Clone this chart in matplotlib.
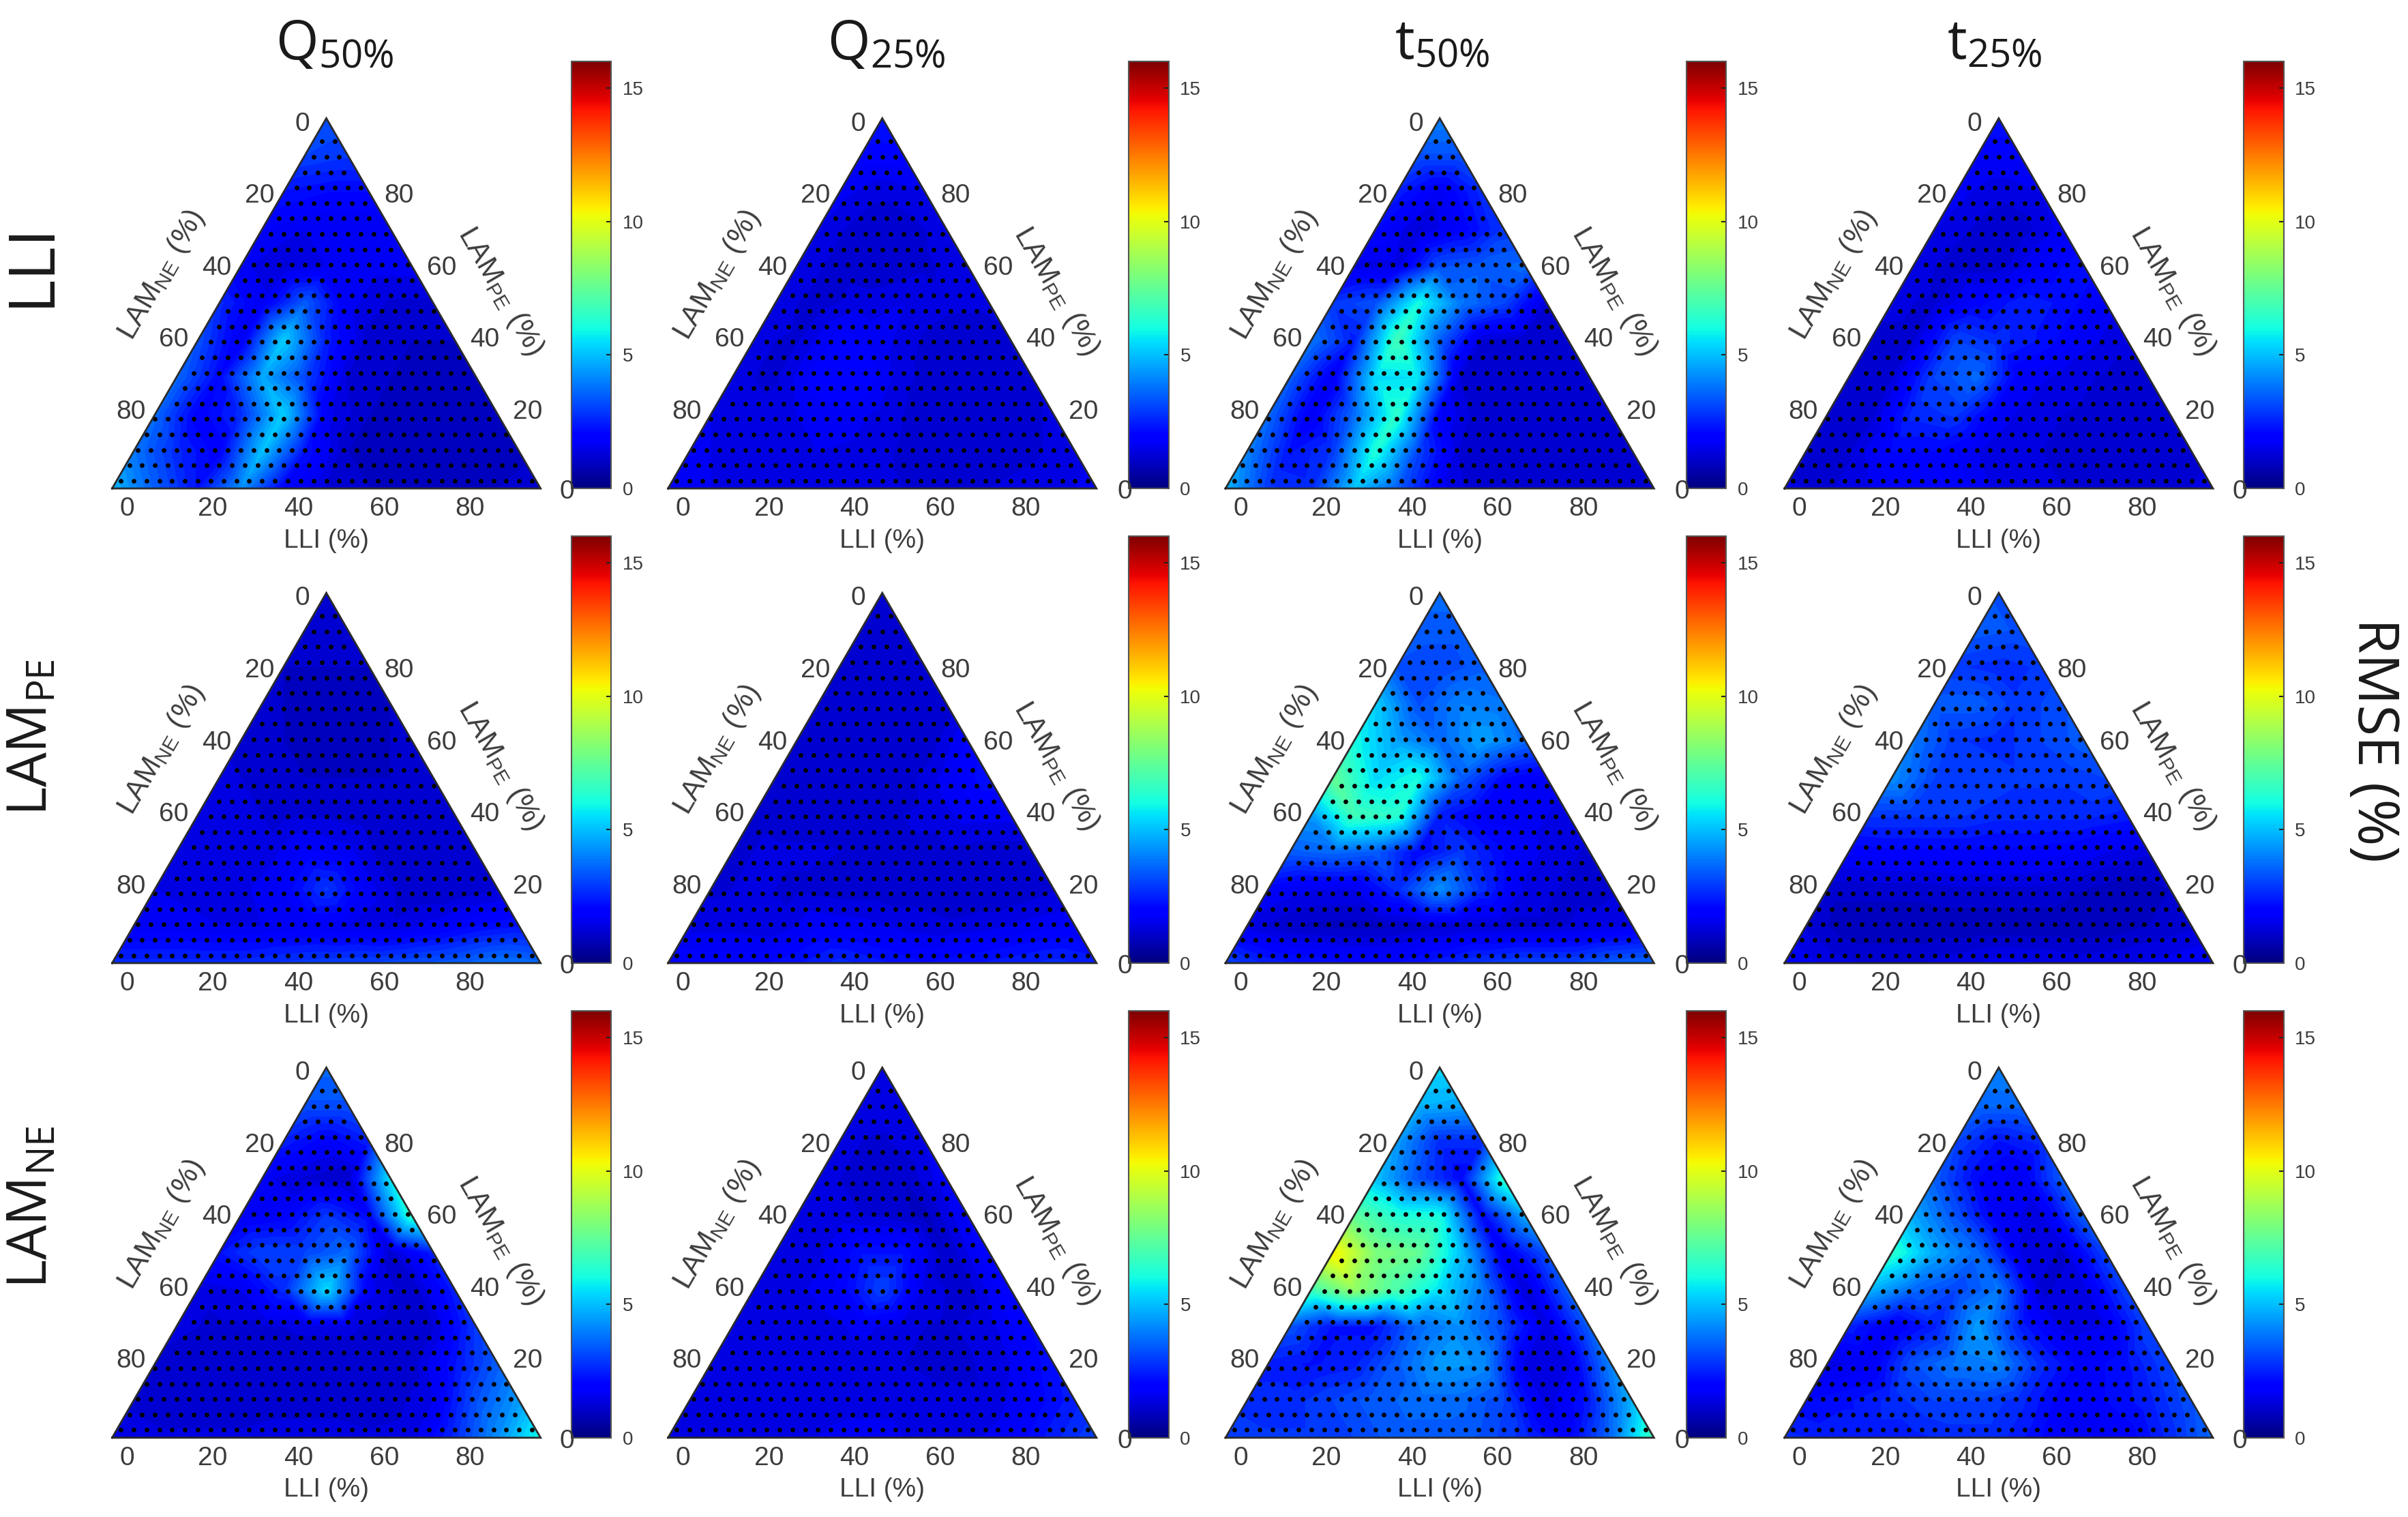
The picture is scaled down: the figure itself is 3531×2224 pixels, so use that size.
import matplotlib
matplotlib.use('Agg')
import matplotlib.pyplot as plt
import matplotlib.tri as mtri
import numpy as np

plt.rcParams['font.family'] = ['Liberation Sans', 'DejaVu Sans']

# RMSE, rows go from the apex (LAM_NE 0) to the base, step 10 %
Q50_LLI = [[3.2], [3.0, 2.8], [2.2, 2.0, 2.0], [1.8, 1.5, 1.5, 1.5],
           [1.6, 1.2, 1.5, 1.6, 1.6], [2.6, 1.6, 3.4, 1.6, 1.2, 1.2],
           [3.2, 1.6, 5.2, 2.4, 1.1, 1.0, 1.0], [3.6, 2.0, 4.6, 3.0, 1.2, 1.0, 0.9, 0.9],
           [3.6, 1.8, 2.6, 5.2, 1.6, 1.0, 0.9, 0.9, 0.9],
           [3.8, 2.6, 1.8, 5.0, 2.2, 1.0, 0.9, 0.9, 0.9, 0.9],
           [4.8, 3.4, 2.2, 4.2, 1.8, 1.2, 1.0, 1.0, 1.0, 1.0, 1.2]]
Q25_LLI = [[2.2], [1.9, 1.9], [1.6, 1.3, 1.5], [1.5, 1.1, 1.1, 1.4],
           [1.5, 1.1, 1.0, 1.2, 1.4], [1.4, 1.1, 1.4, 1.5, 1.3, 1.3],
           [1.3, 1.2, 1.9, 1.6, 1.2, 1.1, 1.2], [1.3, 1.2, 1.9, 2.0, 1.3, 1.1, 1.1, 1.2],
           [1.5, 1.3, 1.5, 1.7, 1.4, 1.1, 1.1, 1.1, 1.3],
           [1.6, 1.4, 1.4, 1.5, 1.4, 1.2, 1.1, 1.1, 1.2, 1.4],
           [1.8, 1.5, 1.5, 1.4, 1.4, 1.3, 1.2, 1.2, 1.3, 1.4, 1.6]]
T50_LLI = [[4.0], [3.2, 3.2], [2.4, 1.6, 2.6], [2.0, 1.2, 1.8, 2.8],
           [1.4, 1.4, 3.2, 3.4, 3.6], [2.8, 3.2, 6.0, 3.8, 3.0, 1.2],
           [3.8, 2.4, 6.8, 3.4, 1.2, 1.0, 1.0], [3.4, 1.6, 5.4, 5.5, 1.2, 1.0, 1.0, 1.0],
           [3.6, 1.6, 3.6, 6.4, 1.8, 1.0, 1.0, 1.0, 1.0],
           [4.0, 2.2, 2.8, 6.2, 3.0, 1.2, 1.0, 1.0, 1.0, 1.0],
           [4.8, 2.8, 2.6, 5.0, 3.4, 1.6, 1.0, 1.0, 1.0, 1.0, 1.2]]
T25_LLI = [[2.2], [1.8, 1.8], [1.6, 1.3, 1.5], [1.5, 1.2, 1.1, 1.6],
           [1.4, 1.1, 1.1, 1.8, 2.2], [1.3, 1.2, 1.9, 2.4, 2.2, 1.6],
           [1.2, 1.2, 3.0, 2.6, 2.2, 1.6, 1.3], [1.2, 1.2, 3.0, 3.6, 1.7, 1.4, 1.2, 1.2],
           [1.2, 1.1, 2.6, 2.8, 1.6, 1.3, 1.2, 1.2, 1.2],
           [1.1, 1.2, 2.0, 2.0, 1.5, 1.3, 1.2, 1.2, 1.2, 1.2],
           [1.3, 1.2, 1.5, 1.9, 1.9, 1.4, 1.3, 1.2, 1.2, 1.2, 1.3]]

Q50_PE = [[1.0], [1.0, 1.0], [1.0, 1.0, 1.0], [1.1, 0.9, 0.9, 1.0],
          [1.2, 1.0, 0.9, 0.9, 1.1], [1.3, 1.2, 1.0, 1.0, 1.0, 1.2],
          [1.4, 1.3, 1.2, 1.2, 1.1, 1.1, 1.1], [1.5, 1.4, 1.3, 1.8, 1.6, 1.0, 1.0, 1.1],
          [1.5, 1.4, 1.4, 1.8, 2.8, 1.6, 1.0, 1.0, 1.2],
          [1.6, 1.6, 1.5, 1.5, 1.6, 1.5, 1.3, 1.6, 2.0, 2.2],
          [2.6, 2.6, 2.6, 2.6, 2.8, 2.9, 3.0, 3.2, 3.4, 3.8, 3.6]]
Q25_PE = [[1.0], [1.0, 1.0], [1.0, 1.0, 1.0], [1.1, 1.0, 1.0, 1.0],
          [1.1, 1.0, 1.0, 1.0, 1.8], [1.2, 1.1, 1.0, 1.1, 1.6, 2.2],
          [1.2, 1.1, 1.1, 1.2, 1.3, 1.6, 1.6], [1.2, 1.3, 1.3, 1.2, 1.2, 1.2, 1.1, 1.1],
          [1.2, 1.3, 1.2, 1.1, 1.1, 1.1, 1.0, 1.0, 1.2],
          [1.4, 1.4, 1.3, 1.7, 1.6, 1.4, 1.3, 1.4, 1.6, 1.7],
          [2.0, 1.9, 1.9, 2.2, 2.6, 2.3, 2.0, 2.2, 2.4, 2.6, 2.4]]
T50_PE = [[3.6], [3.4, 3.4], [3.2, 3.0, 3.4], [5.2, 3.2, 4.0, 3.8],
          [6.0, 4.5, 3.6, 4.5, 3.6], [7.5, 5.4, 6.0, 3.4, 2.0, 1.6],
          [4.4, 6.8, 6.4, 2.4, 1.7, 1.6, 1.4], [3.4, 3.6, 3.4, 2.0, 2.8, 2.0, 1.4, 1.2],
          [1.8, 1.5, 1.5, 2.6, 4.2, 2.6, 1.4, 1.2, 1.2],
          [1.4, 1.0, 0.9, 0.9, 1.1, 1.2, 1.2, 1.2, 1.3, 1.5],
          [3.0, 2.4, 2.2, 2.0, 2.0, 2.4, 2.8, 3.0, 3.0, 3.4, 3.6]]
T25_PE = [[3.2], [3.4, 3.2], [2.8, 2.6, 2.8], [3.4, 3.4, 2.8, 3.2],
          [3.8, 2.8, 2.6, 3.0, 3.4], [4.2, 3.0, 3.0, 2.8, 2.8, 3.0],
          [2.8, 2.8, 2.8, 2.6, 2.6, 2.6, 2.4], [1.8, 1.9, 1.9, 1.9, 1.9, 1.8, 1.5, 1.3],
          [1.1, 1.1, 1.1, 1.2, 1.2, 1.2, 1.0, 0.8, 1.0],
          [1.2, 0.8, 0.8, 0.8, 0.8, 0.8, 0.8, 0.8, 1.0, 1.2],
          [1.8, 1.4, 1.2, 1.2, 1.4, 1.6, 1.5, 1.4, 1.5, 1.6, 1.8]]

Q50_NE = [[3.6], [3.2, 3.2], [2.4, 1.8, 2.4], [1.6, 1.2, 1.0, 5.6],
          [1.6, 1.8, 2.8, 2.0, 6.4], [2.2, 3.0, 3.0, 3.6, 1.1, 2.4],
          [1.3, 1.5, 2.6, 5.4, 1.6, 1.0, 2.4], [1.3, 1.2, 1.2, 1.3, 1.3, 1.1, 1.2, 2.8],
          [1.2, 1.1, 1.1, 1.1, 1.1, 1.1, 1.1, 2.2, 3.4],
          [1.2, 1.1, 1.1, 1.1, 1.1, 1.1, 1.1, 1.5, 3.2, 4.4],
          [1.4, 1.3, 1.3, 1.3, 1.4, 1.4, 1.3, 1.4, 2.6, 4.2, 6.0]]
Q25_NE = [[1.4], [1.4, 1.4], [1.3, 1.2, 1.5], [1.3, 1.2, 1.0, 1.7],
          [1.4, 1.3, 1.2, 0.9, 1.8], [1.4, 1.4, 2.2, 2.2, 1.0, 2.0],
          [1.4, 1.4, 1.8, 3.0, 1.4, 1.1, 2.0], [1.3, 1.3, 1.3, 1.6, 1.3, 1.2, 1.4, 2.0],
          [1.3, 1.3, 1.3, 1.3, 1.3, 1.2, 1.2, 1.5, 2.2],
          [1.3, 1.3, 1.3, 1.3, 1.4, 1.4, 1.3, 1.3, 1.8, 2.4],
          [1.5, 1.4, 1.4, 1.4, 1.6, 1.6, 1.4, 1.4, 1.7, 2.4, 3.0]]
T50_NE = [[5.4], [4.8, 4.6], [4.4, 2.6, 2.6], [5.0, 3.2, 2.0, 6.4],
          [7.4, 6.2, 6.0, 2.0, 4.6], [10.5, 8.0, 7.5, 5.0, 1.6, 3.2],
          [6.8, 8.4, 7.0, 5.5, 3.8, 1.2, 3.4], [3.2, 2.2, 2.2, 3.6, 4.2, 3.0, 1.3, 3.4],
          [2.4, 2.2, 2.4, 3.4, 4.4, 4.2, 1.4, 1.4, 4.0],
          [2.6, 2.6, 3.0, 3.4, 3.6, 3.6, 3.0, 1.3, 2.4, 4.8],
          [3.0, 2.8, 2.8, 3.0, 3.4, 3.4, 3.2, 2.6, 1.8, 3.6, 6.8]]
T25_NE = [[4.0], [3.6, 3.6], [3.0, 2.2, 2.6], [3.4, 2.0, 1.6, 3.4],
          [4.6, 3.2, 1.6, 1.4, 3.4], [6.4, 4.6, 3.6, 1.5, 1.2, 3.0],
          [4.8, 3.6, 3.0, 3.8, 1.2, 1.4, 3.0], [2.4, 1.6, 2.4, 4.4, 2.4, 1.4, 1.5, 3.0],
          [1.4, 1.6, 3.2, 3.8, 4.0, 2.6, 1.8, 2.2, 3.0],
          [2.0, 2.2, 2.6, 3.0, 3.0, 2.6, 1.8, 2.0, 2.4, 3.2],
          [2.6, 2.4, 2.4, 2.4, 2.6, 2.6, 2.0, 1.5, 1.8, 2.6, 3.6]]

PANELS = [[Q50_LLI, Q25_LLI, T50_LLI, T25_LLI],
          [Q50_PE, Q25_PE, T50_PE, T25_PE],
          [Q50_NE, Q25_NE, T50_NE, T25_NE]]

COL_TITLES = [r'$\mathregular{Q_{50\%}}$', r'$\mathregular{Q_{25\%}}$',
              r'$\mathregular{t_{50\%}}$', r'$\mathregular{t_{25\%}}$']
ROW_TITLES = ['LLI', r'$\mathregular{LAM_{PE}}$', r'$\mathregular{LAM_{NE}}$']
ROW_SIZES = [68, 58, 58]
BOTTOM_TICKS = [0, 20, 40, 60, 80]
LEFT_TICKS = [0, 20, 40, 60, 80]
RIGHT_TICKS = [80, 60, 40, 20]
CBAR_TICKS = [0, 5, 10, 15]

W, H = 3531, 2224
S = W / 1568          # positions below were measured on the shrunk image
TRI_LEFT = [73, 435, 798, 1162]
TRI_W = 279
TRI_BASE = [318, 627, 936]
TRI_H = 241
CB_LEFT = [372, 735, 1098, 1461]
CB_W = 26
CB_H = 278
TRI_YMAX = 100 * TRI_H / TRI_W
TXT = '#3c3c3c'

fig = plt.figure(figsize=(W / 100, H / 100), dpi=100, facecolor='white')


def add_px_axes(x0, ytop, w, h):
    return fig.add_axes([x0 * S / W, 1 - (ytop + h) * S / H, w * S / W, h * S / H])


def lattice():
    xs, ys = [], []
    for r in range(11):
        for i in range(r + 1):
            xs.append(50 + (i - r / 2) * 10)
            ys.append(TRI_YMAX * (1 - r / 10))
    return np.array(xs), np.array(ys)


def sample_dots(rows=24, step=3.0):
    # staggered rows of sample points, kept inside the triangle
    xs, ys = [], []
    for r in range(1, rows + 1):
        half = 50 * (r - 0.5) / rows - 0.6
        row_x = np.arange(-60, 60, step) + (r % 3) * step / 3
        row_x = row_x[np.abs(row_x) <= half]
        xs.extend(50 + row_x)
        ys.extend([TRI_YMAX * (1 - (r - 0.5) / rows)] * len(row_x))
    return np.array(xs), np.array(ys)


gx, gy = lattice()
grid = mtri.Triangulation(gx, gy)
dx, dy = sample_dots()
levels = np.linspace(0, 16, 65)

for row, base in enumerate(TRI_BASE):
    for col, left in enumerate(TRI_LEFT):
        ax = add_px_axes(left, base - TRI_H, TRI_W, TRI_H)
        vals = np.concatenate([np.array(v, float) for v in PANELS[row][col]])
        ax.tricontourf(grid, vals, levels=levels, cmap='jet', vmin=0, vmax=16)
        ax.scatter(dx, dy, s=24, c='black', linewidths=0, zorder=3)
        ax.plot([0, 50, 100, 0], [0, TRI_YMAX, 0, 0], color='#2b2b2b', lw=2.0,
                zorder=4, clip_on=False, solid_joinstyle='miter')
        ax.set_xlim(0, 100)
        ax.set_ylim(0, TRI_YMAX)
        ax.axis('off')

        for t in BOTTOM_TICKS:
            ax.text(t + 3.5, -4.8, str(t), ha='center', va='center', fontsize=28, color=TXT)
        ax.text(50, -12.2, 'LLI (%)', ha='center', va='center', fontsize=28, color=TXT)
        for t in LEFT_TICKS:
            ax.text(t / 2 * -1 + 44.4, TRI_YMAX - 1.3 - t * 0.84, str(t), ha='center',
                    va='center', fontsize=28, color=TXT)
        for t in RIGHT_TICKS:
            ax.text(50 + (100 - t) / 2 + 7.0, TRI_YMAX - 18.1 - (80 - t) * 0.84, str(t),
                    ha='center', va='center', fontsize=28, color=TXT)
        ax.text(11.5, 49.8, r'$\mathregular{LAM_{NE}\ (\%)}$', ha='center', va='center',
                rotation=60, rotation_mode='anchor', fontsize=31, color=TXT)
        ax.text(90.6, 46, r'$\mathregular{LAM_{PE}\ (\%)}$', ha='center', va='center',
                rotation=-60, rotation_mode='anchor', fontsize=31, color=TXT)

        # colour bar of this panel
        cax = add_px_axes(CB_LEFT[col], base - CB_H, CB_W, CB_H)
        sm = plt.cm.ScalarMappable(norm=plt.Normalize(0, 16), cmap='jet')
        cb = fig.colorbar(sm, cax=cax)
        cb.set_ticks(CBAR_TICKS)
        cb.ax.tick_params(labelsize=20, labelcolor=TXT, direction='in', length=5,
                          width=1.5, color='#222222', pad=12)
        cb.outline.set_edgecolor('#555555')
        cb.outline.set_linewidth(1.5)
        cax.text(0.08, -0.008, '0', transform=cax.transAxes, ha='right', va='center',
                 fontsize=28, color=TXT)

col_x = [218, 577, 939, 1299]
for t, cx in zip(COL_TITLES, col_x):
    fig.text(cx * S / W, 1 - 29 * S / H, t, ha='center', va='center', fontsize=58,
             family='Open Sans', color='#1a1a1a')

row_y = [172, 480, 786]
for t, cy, fs in zip(ROW_TITLES, row_y, ROW_SIZES):
    fig.text(21 * S / W, 1 - cy * S / H, t, ha='center', va='center', rotation=90,
             fontsize=fs, family='Open Sans', color='#1a1a1a')

fig.text(1545 * S / W, 1 - 482 * S / H, 'RMSE (%)', ha='center', va='center', rotation=-90,
         fontsize=60, family='Open Sans', color='#1a1a1a')

fig.savefig('out.png', dpi=100)
